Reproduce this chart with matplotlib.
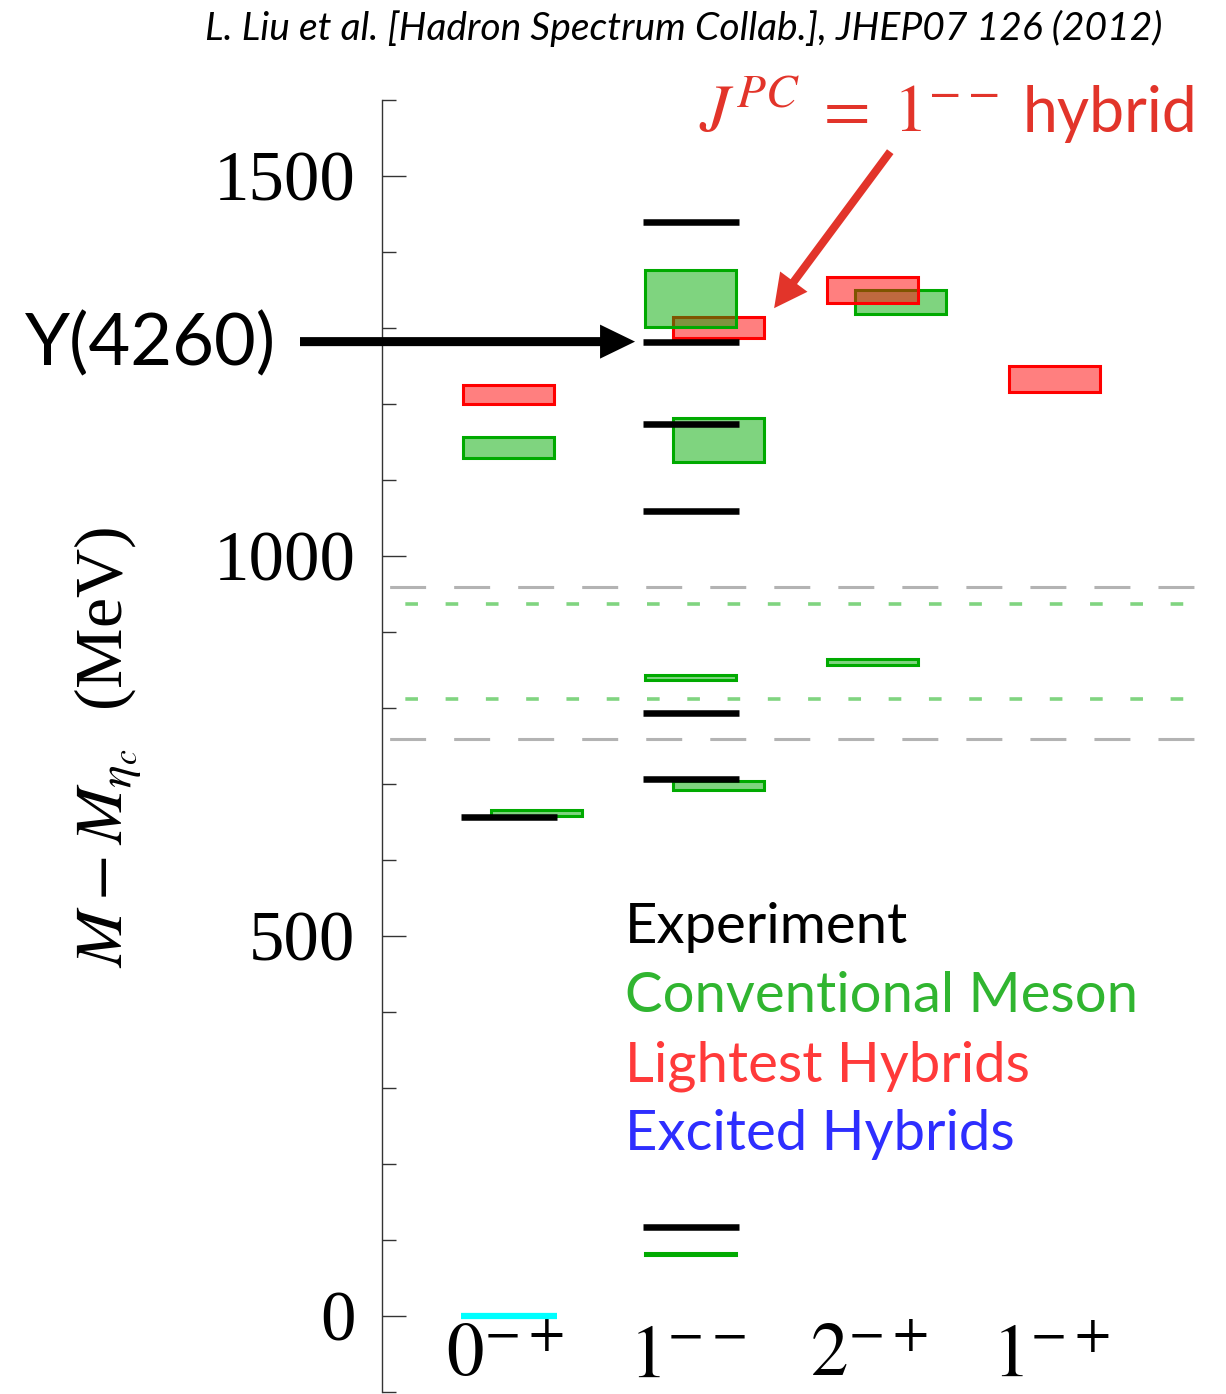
import numpy as np
import matplotlib.pyplot as plt
from matplotlib.ticker import MultipleLocator

plt.rcParams['mathtext.fontset'] = 'stix'
plt.rcParams['lines.scale_dashes'] = False

# --- data (MeV above eta_c) ---
categories = [r"$0^{-+}$", r"$1^{--}$", r"$2^{-+}$", r"$1^{-+}$"]

# eta_c reference level
ref_cat = [0]
ref_mass = [0]

# experimental states
exp_cat = [0, 1, 1, 1, 1, 1, 1, 1]
exp_mass = [657, 117, 706, 793, 1059, 1173, 1282, 1440]
y4260 = 1282

# lattice conventional mesons (green)
conv_cat = [0, 0, 1, 1, 1, 1, 1, 2, 2]
conv_mass = [1143, 662, 81, 698, 840, 1153, 1339, 860, 1334]
conv_err = [14, 4, 1, 6, 3, 29, 37.5, 4, 16]
conv_shift = [0, 1, 0, 1, 0, 1, 0, 0, 1]

# lattice lightest hybrids (red)
hyb_cat = [0, 1, 2, 3]
hyb_mass = [1212, 1301, 1350, 1233]
hyb_err = [12.5, 14, 17, 17]
hyb_shift = [0, 1, 0, 0]

# thresholds
thr_exp = [759, 959]
thr_lat = [812, 937]

W, H = 1226, 1394
fig = plt.figure(figsize=(W / 100, H / 100), dpi=100)
ax = fig.add_axes([381.7 / W, 2.3 / H, 818.3 / W, 1291.7 / H])
ax.set_xlim(-0.698, 3.798)
ax.set_ylim(-100, 1600)

red_txt = '#e2342a'

# threshold lines
for m in thr_exp:
    ax.axhline(m, color='#b3b3b3', lw=2.2, linestyle=(40.6, (25.9, 20.2)), zorder=1)
for m in thr_lat:
    ax.axhline(m, color='#80d480', lw=2.6, linestyle=(12.2, (9.1, 19.9)), zorder=1)

box_w = 0.5
shift = 0.15


def draw_boxes(cats, mass, err, shifted, face, edge):
    for c, m, e, s in zip(cats, mass, err, shifted):
        ax.bar(c + shift * s, 2 * e, bottom=m - e, width=box_w, color=face,
               edgecolor=edge, linewidth=2.2, zorder=2 if s else 3)


draw_boxes(conv_cat, conv_mass, conv_err, conv_shift, (0, 0.667, 0, 0.5), '#00aa00')
draw_boxes(hyb_cat, hyb_mass, hyb_err, hyb_shift, (1, 0, 0, 0.5), '#ff0000')

half = 0.265
ax.hlines(exp_mass, np.array(exp_cat) - half, np.array(exp_cat) + half,
          color='black', lw=4.7, zorder=5)
ax.hlines(ref_mass, np.array(ref_cat) - half, np.array(ref_cat) + half,
          color='#00ffff', lw=4.5, zorder=5)

# axes styling
for s in ['top', 'right', 'bottom']:
    ax.spines[s].set_visible(False)
ax.spines['left'].set_color('#333333')
ax.spines['left'].set_linewidth(1.0)
ax.set_xticks([])
ax.set_yticks([0, 500, 1000, 1500], labels=['0', '500', '1000', '1500'],
              fontfamily='Liberation Serif', fontsize=51)
ax.yaxis.set_minor_locator(MultipleLocator(100))
ax.tick_params(axis='y', which='major', direction='in', length=17.5, width=1,
               color='#333333', pad=19)
ax.tick_params(axis='y', which='minor', direction='in', length=10, width=1,
               color='#333333')

for i, lab in enumerate(categories):
    ax.text(i - 0.02, -80, lab, ha='center', va='baseline', fontsize=54, clip_on=False)

fig.text(108 / W, 647 / H, r"$M - M_{\eta_c}$  (MeV)", rotation=90, ha='center',
         va='center', fontsize=49, fontfamily='Liberation Serif')

renderer = fig.canvas.get_renderer()

# citation, sized to span the same width as in the original
cit = fig.text(205 / W, (H - 40) / H,
               "L. Liu et al. [Hadron Spectrum Collab.], JHEP07 126 (2012)",
               fontsize=30, style='italic', va='baseline', fontfamily='Lato')
cit_w = cit.get_window_extent(renderer).width
cit.set_fontsize(30 * 955 / cit_w)

# Y(4260) arrow
fig.text(25 / W, (H - 365) / H, "Y(4260)", fontsize=52, fontfamily='Lato',
         va='baseline')
ax.annotate('', xy=(0.694, y4260), xycoords='data',
            xytext=(300, y4260), textcoords=('figure pixels', 'data'),
            arrowprops=dict(arrowstyle='simple,head_length=2.52,head_width=2.45,tail_width=0.65',
                            color='black', lw=0, shrinkA=0, shrinkB=0, mutation_scale=10))

# hybrid label and arrow
jpc = fig.text(699 / W, (H - 132) / H, r"$J^{PC}\;=\;1^{--}$", fontsize=51,
               color=red_txt, va='baseline')
jpc_w = jpc.get_window_extent(renderer).width
jpc.set_fontsize(51 * 300 / jpc_w)
fig.text(1023 / W, (H - 132) / H, "hybrid", fontsize=45, color=red_txt,
         fontfamily='Lato', va='baseline')
ax.annotate('', xy=(1.458, 1326), xycoords='data', xytext=(2.096, 1532),
            textcoords='data',
            arrowprops=dict(arrowstyle='simple,head_length=2.38,head_width=2.45,tail_width=0.58',
                            color=red_txt, lw=0, shrinkA=0, shrinkB=0, mutation_scale=10))

# legend text
legend_items = ["Experiment", "Conventional Meson", "Lightest Hybrids", "Excited Hybrids"]
legend_colors = ['black', '#30b530', '#ff3a3a', '#2e2eff']
for k, (t, c) in enumerate(zip(legend_items, legend_colors)):
    fig.text(625 / W, (H - 943 - 69 * k) / H, t, color=c, fontsize=40.5,
             fontfamily='Lato', va='baseline')

fig.savefig('out.png', dpi=100)
